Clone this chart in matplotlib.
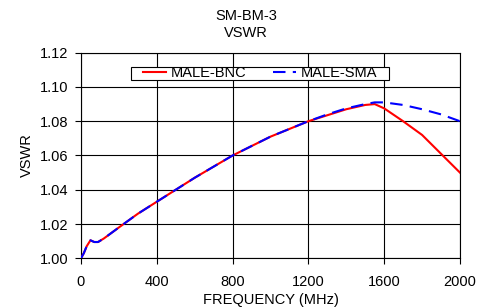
### Libraries ###
import matplotlib
matplotlib.use('Agg')
import matplotlib.pyplot as plt
from matplotlib.patches import Rectangle

### Data ###
freq_bnc = [0, 15, 30, 50, 70, 90, 120, 200, 300, 400, 500, 600, 700, 800, 900, 1000,
            1100, 1200, 1300, 1400, 1500, 1550, 1600, 1700, 1800, 1900, 2000]
vswr_bnc = [1.000, 1.003, 1.007, 1.0105, 1.0095, 1.0095, 1.0115, 1.018, 1.026, 1.033,
            1.040, 1.047, 1.0535, 1.060, 1.0655, 1.071, 1.0755, 1.080, 1.0835, 1.087,
            1.0895, 1.090, 1.0875, 1.080, 1.072, 1.061, 1.050]

freq_sma = [0, 15, 30, 50, 70, 90, 120, 200, 300, 400, 500, 600, 700, 800, 900, 1000,
            1100, 1200, 1300, 1400, 1500, 1550, 1600, 1700, 1800, 1900, 2000]
vswr_sma = [1.000, 1.003, 1.007, 1.0105, 1.0095, 1.0095, 1.0115, 1.018, 1.026, 1.033,
            1.040, 1.047, 1.0535, 1.060, 1.0655, 1.071, 1.0755, 1.080, 1.084, 1.0875,
            1.090, 1.091, 1.091, 1.0895, 1.087, 1.084, 1.080]

x_ticks = [0, 400, 800, 1200, 1600, 2000]
y_ticks = [1.00, 1.02, 1.04, 1.06, 1.08, 1.10, 1.12]

### Plot ###
plt.rcParams['font.family'] = ['Liberation Sans', 'DejaVu Sans']
fs = 10.5
fig = plt.figure(figsize=(4.92, 3.08), dpi=100)
ax = fig.add_axes([0.1646, 0.1614, 0.7703, 0.6675])

ax.plot(freq_bnc, vswr_bnc, color='red', lw=1.5, label='MALE-BNC', zorder=3)
ax.plot(freq_sma, vswr_sma, color='blue', lw=1.5, ls=(0, (6, 3.5)), label='MALE-SMA', zorder=4)

ax.set_xlim(0, 2000)
ax.set_ylim(1.00, 1.12)
ax.set_xticks(x_ticks)
ax.set_yticks(y_ticks)
ax.set_yticklabels(['%.2f' % v for v in y_ticks])
ax.grid(True, color='black', lw=0.8)
ax.tick_params(labelsize=fs, direction='out', length=4, width=0.8)
ax.tick_params(axis='y', pad=5)
ax.tick_params(axis='x', pad=8)
for s in ax.spines.values():
    s.set_linewidth(0.8)

ax.set_xlabel('FREQUENCY (MHz)', fontsize=fs, labelpad=3)
ax.set_ylabel('VSWR', fontsize=fs, labelpad=4.5)
fig.text(0.5, 0.92, 'SM-BM-3\nVSWR', ha='center', va='center', fontsize=fs, linespacing=1.3)

# legend box: wide and flat, drawn by hand behind a frameless legend
box = Rectangle((0.132, 0.867), 0.681, 0.063, transform=ax.transAxes,
                facecolor='white', edgecolor='black', lw=0.8, zorder=6)
ax.add_patch(box)
leg = ax.legend(loc='center', bbox_to_anchor=(0.4725, 0.8995), ncol=2, fontsize=fs,
                frameon=False, borderpad=0, handlelength=1.6, columnspacing=1.8,
                handletextpad=0.3, borderaxespad=0)
leg.set_zorder(7)

plt.savefig('out.png', dpi=100)
